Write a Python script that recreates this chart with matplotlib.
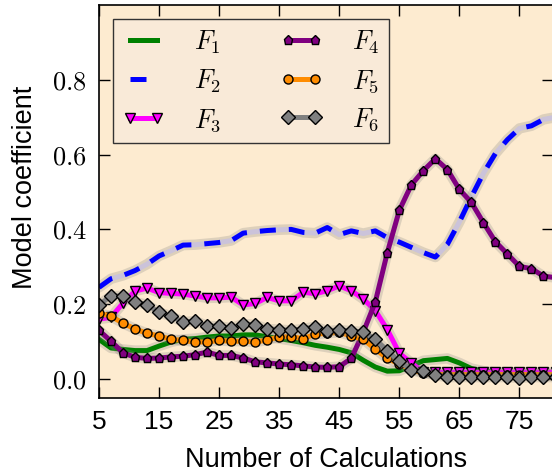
import matplotlib
matplotlib.use("Agg")
import matplotlib.pyplot as plt
from matplotlib.ticker import FormatStrFormatter

plt.rcParams["font.family"] = ["Liberation Sans", "DejaVu Sans"]
plt.rcParams["mathtext.fontset"] = "cm"

calcs = [5, 7, 9, 11, 13, 15, 17, 19, 21, 23,
         25, 27, 29, 31, 33, 35, 37, 39, 41, 43,
         45, 47, 49, 51, 53, 55, 57, 59, 61, 63,
         65, 67, 69, 71, 73, 75, 77, 79, 81]

f1 = [0.106, 0.083, 0.079, 0.076, 0.076, 0.088, 0.099, 0.106, 0.108, 0.112,
      0.115, 0.115, 0.118, 0.118, 0.113, 0.108, 0.103, 0.097, 0.090, 0.085,
      0.079, 0.070, 0.050, 0.032, 0.021, 0.022, 0.035, 0.049, 0.052, 0.055,
      0.043, 0.028, 0.021, 0.018, 0.016, 0.015, 0.015, 0.015, 0.015]
f2 = [0.245, 0.268, 0.277, 0.290, 0.307, 0.329, 0.343, 0.358, 0.359, 0.362,
      0.365, 0.370, 0.390, 0.394, 0.397, 0.399, 0.400, 0.392, 0.390, 0.405,
      0.386, 0.396, 0.389, 0.396, 0.378, 0.366, 0.352, 0.338, 0.326, 0.360,
      0.420, 0.487, 0.550, 0.603, 0.640, 0.670, 0.677, 0.694, 0.700]
f3 = [0.160, 0.165, 0.203, 0.235, 0.243, 0.231, 0.229, 0.227, 0.222, 0.217,
      0.217, 0.219, 0.198, 0.202, 0.218, 0.209, 0.209, 0.232, 0.228, 0.236,
      0.249, 0.236, 0.214, 0.183, 0.132, 0.069, 0.043, 0.018, 0.018, 0.018,
      0.018, 0.018, 0.018, 0.018, 0.018, 0.018, 0.018, 0.018, 0.018]
f4 = [0.130, 0.101, 0.070, 0.058, 0.055, 0.056, 0.059, 0.061, 0.065, 0.072,
      0.063, 0.063, 0.056, 0.046, 0.043, 0.040, 0.038, 0.035, 0.032, 0.031,
      0.033, 0.055, 0.125, 0.206, 0.338, 0.451, 0.519, 0.557, 0.589, 0.560,
      0.507, 0.472, 0.418, 0.367, 0.334, 0.301, 0.295, 0.275, 0.271]
f5 = [0.176, 0.168, 0.149, 0.134, 0.122, 0.115, 0.106, 0.103, 0.099, 0.099,
      0.103, 0.101, 0.101, 0.099, 0.104, 0.113, 0.113, 0.108, 0.120, 0.122,
      0.125, 0.115, 0.106, 0.080, 0.055, 0.040, 0.025, 0.015, 0.012, 0.012,
      0.012, 0.012, 0.012, 0.012, 0.012, 0.012, 0.012, 0.012, 0.012]
f6 = [0.198, 0.222, 0.222, 0.205, 0.199, 0.178, 0.168, 0.152, 0.155, 0.142,
      0.141, 0.136, 0.147, 0.145, 0.134, 0.132, 0.130, 0.134, 0.140, 0.128,
      0.131, 0.128, 0.126, 0.106, 0.076, 0.047, 0.025, 0.021, 0.010, 0.005,
      0.005, 0.005, 0.005, 0.005, 0.005, 0.003, 0.005, 0.005, 0.005]

labels = [r"$F_1$", r"$F_2$", r"$F_3$", r"$F_4$", r"$F_5$", r"$F_6$"]
colors = ["green", "blue", "magenta", "purple", "darkorange", "gray"]
markers = [None, None, "v", "p", "o", "D"]
msizes = [0, 0, 7, 6.5, 6.5, 7]

fig = plt.figure(figsize=(5.52, 4.74), dpi=100)
ax = fig.add_axes([99 / 552, 1 - 397.7 / 474, 453.5 / 552, 392.7 / 474])
ax.set_facecolor("#FDEBD0")

lw = 3.6
for i, ys in enumerate([f1, f2, f3, f4, f5, f6]):
    # soft grey halo under each line
    ax.plot(calcs, ys, color="gray", alpha=0.25, lw=7.5,
            solid_capstyle="round", solid_joinstyle="round")
    if i == 1:
        ax.plot(calcs, ys, color="#CBC3DA", lw=lw)
        ax.plot(calcs, ys, color=colors[i], lw=lw, dashes=(3.2, 2.6),
                label=labels[i])
    else:
        ax.plot(calcs, ys, color=colors[i], lw=lw, marker=markers[i],
                markersize=msizes[i], markeredgecolor="black",
                markeredgewidth=1.0, label=labels[i])

ax.set_xlim(5, 80.5)
ax.set_ylim(-0.05, 1.0)
ax.set_xticks([5, 15, 25, 35, 45, 55, 65, 75])
ax.set_yticks([0.0, 0.2, 0.4, 0.6, 0.8])
ax.yaxis.set_major_formatter(FormatStrFormatter(r"$%.1f$"))
ax.tick_params(direction="in", top=True, right=True, length=8, width=1.0,
               labelsize=19)
ax.tick_params(axis="x", pad=9)
ax.tick_params(axis="y", pad=9, labelsize=19)
for sp in ax.spines.values():
    sp.set_linewidth(1.2)

ax.set_xlabel("Number of Calculations", fontsize=19.5, labelpad=9)
ax.set_ylabel("Model coefficient", fontsize=19.5)
ax.yaxis.set_label_coords(-0.135, 0.536)

leg = ax.legend(ncol=2, loc="upper left", bbox_to_anchor=(0.03, 0.964),
                borderaxespad=0, fontsize=19, numpoints=2, fancybox=False,
                framealpha=1, facecolor="#F9EAD8", edgecolor="#333333",
                handlelength=1.65, handletextpad=1.1, columnspacing=2.2,
                labelspacing=0.45, borderpad=0.35)
leg.get_frame().set_linewidth(1.0)

fig.savefig("out.png", dpi=100)
